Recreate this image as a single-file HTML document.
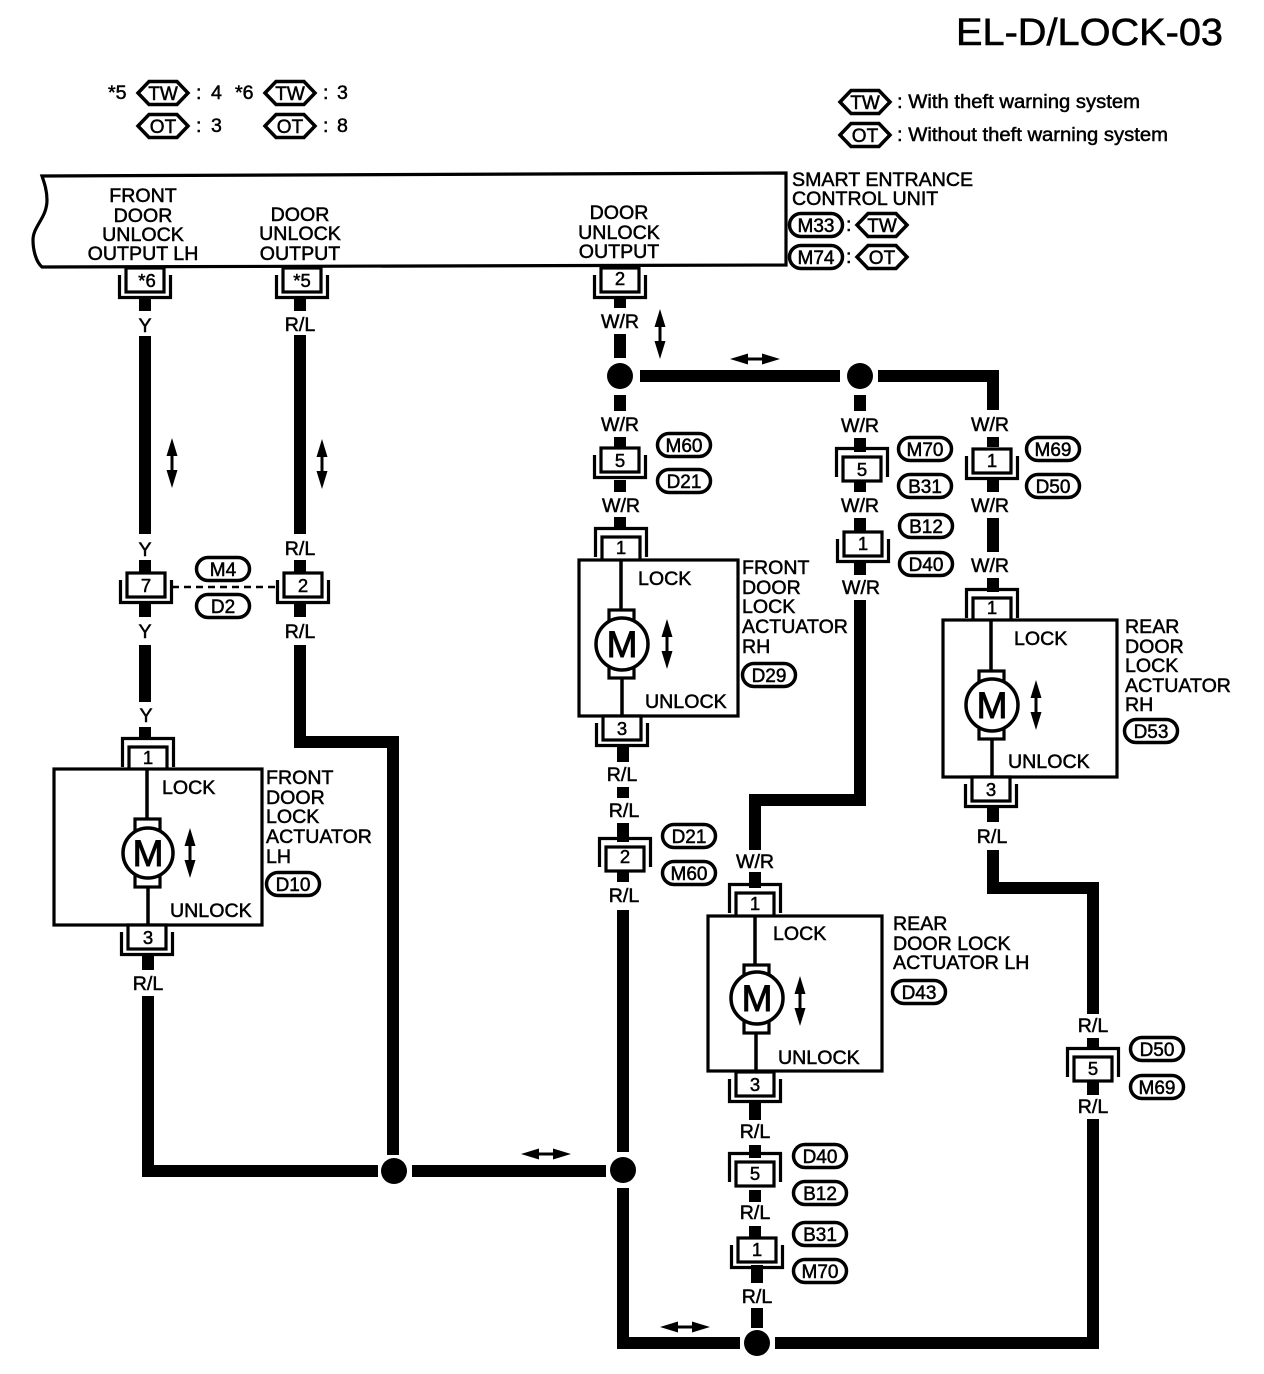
<!DOCTYPE html>
<html>
<head>
<meta charset="utf-8">
<title>EL-D/LOCK-03</title>
<style>
html,body{margin:0;padding:0;background:#fff}
svg{display:block}
text{font-family:"Liberation Sans",sans-serif;font-size:19.6px;fill:#000;stroke:#000;stroke-width:.5}
.m{text-anchor:middle}
.n{font-size:18.5px}
.p{font-size:19px;text-anchor:middle}
.big{font-size:38px;stroke-width:.6}
.M{font-size:37px;text-anchor:middle;stroke-width:1}
.w{fill:none;stroke:#000;stroke-width:12}
.t{fill:none;stroke:#000;stroke-width:3.500}
</style>
</head>
<body>
<svg width="1264" height="1374" viewBox="0 0 1264 1374" xmlns="http://www.w3.org/2000/svg">
<defs>
<g id="u"><rect x="-19" y="0" width="38" height="24" fill="#fff" stroke="#000" stroke-width="3.200"/><path d="M-25.500 7V29.500H25.500V7" fill="none" stroke="#000" stroke-width="3.200"/></g>
<g id="n"><rect x="-19" y="0" width="38" height="24" fill="#fff" stroke="#000" stroke-width="3.200"/><path d="M-25.500 20V-8.500H25.500V20" fill="none" stroke="#000" stroke-width="3.200"/></g>
<path id="pill" d="M-15-11.500H15A11.500 11.500 0 0 1 15 11.500H-15A11.500 11.500 0 0 1-15-11.500Z" fill="#fff" stroke="#000" stroke-width="3.500"/>
<path id="hex" d="M-25 0L-14-11.500H14L25 0L14 11.500H-14Z" fill="#fff" stroke="#000" stroke-width="3.500"/>
<g id="av"><path d="M0-25L-5.500-7H-1.500V7H-5.500L0 25L5.500 7H1.500V-7H5.500Z" fill="#000"/></g>
<g id="ah"><path d="M-25 0L-7-5.500V-1.500H7V-5.500L25 0L7 5.500V1.500H-7V5.500Z" fill="#000"/></g>
</defs>

<text x="956" y="45" class="big" textLength="267" lengthAdjust="spacingAndGlyphs">EL-D/LOCK-03</text>

<!-- top-left table -->
<text x="108" y="99">*5</text>
<use href="#hex" x="163" y="93"/><text x="163" y="100" class="p">TW</text>
<text x="196" y="99">:</text><text x="211" y="99">4</text>
<text x="235" y="99">*6</text>
<use href="#hex" x="290" y="93"/><text x="290" y="100" class="p">TW</text>
<text x="323" y="99">:</text><text x="337" y="99">3</text>
<use href="#hex" x="163" y="126"/><text x="163" y="133" class="p">OT</text>
<text x="196" y="132">:</text><text x="211" y="132">3</text>
<use href="#hex" x="290" y="126"/><text x="290" y="133" class="p">OT</text>
<text x="323" y="132">:</text><text x="337" y="132">8</text>

<!-- legend -->
<use href="#hex" x="865" y="102"/><text x="865" y="109" class="p">TW</text>
<text x="897" y="108" textLength="243" lengthAdjust="spacingAndGlyphs">: With theft warning system</text>
<use href="#hex" x="865" y="135"/><text x="865" y="142" class="p">OT</text>
<text x="897" y="141" textLength="271" lengthAdjust="spacingAndGlyphs">: Without theft warning system</text>

<!-- control unit -->
<path d="M42 176L786 173V265L42 267C36 262 33 250 33 240C33 226 47 218 47 200C47 190 44 182 42 176Z" fill="#fff" stroke="#000" stroke-width="3.200"/>
<text x="143" y="202" class="m">FRONT</text><text x="143" y="222" class="m">DOOR</text><text x="143" y="241" class="m">UNLOCK</text><text x="143" y="260" class="m">OUTPUT LH</text>
<text x="300" y="221" class="m">DOOR</text><text x="300" y="240" class="m">UNLOCK</text><text x="300" y="260" class="m">OUTPUT</text>
<text x="619" y="219" class="m">DOOR</text><text x="619" y="239" class="m">UNLOCK</text><text x="619" y="258" class="m">OUTPUT</text>
<text x="792" y="186">SMART ENTRANCE</text><text x="792" y="205">CONTROL UNIT</text>
<use href="#pill" x="816" y="225"/><text x="816" y="232" class="p">M33</text>
<text x="846" y="231">:</text>
<use href="#hex" x="882" y="225"/><text x="882" y="232" class="p">TW</text>
<use href="#pill" x="816" y="257"/><text x="816" y="264" class="p">M74</text>
<text x="846" y="263">:</text>
<use href="#hex" x="882" y="257"/><text x="882" y="264" class="p">OT</text>

<!-- wires -->
<g class="w">
<path class="w" d="M145 297V311M145 336V534M145 560V572M145 604V617M145 645V702M145 727V740M148 955V970"/>
<path class="w" d="M300 297V311M300 335V534M300 560V572M300 603V617"/>
<path class="w" d="M300 645V742H393V1155"/>
<path class="w" d="M148 996V1171H378"/>
<path class="w" d="M412 1171H606"/>
<path class="w" d="M620 297V308M620 334V358M620 395V411M620 437V447M620 480V492M620 517V530"/>
<path class="w" d="M640 376H840M878 376H993V410"/>
<path class="w" d="M860 395V411M860 438V452M860 482V492M860 518V532M860 563V575"/>
<path class="w" d="M860 600V800H755V850M755 872V888"/>
<path class="w" d="M993 437V447M993 480V492M993 518V552M993 578V592"/>
<path class="w" d="M993 806V822M993 850V888H1093V1014M1093 1038V1050M1093 1082V1095"/>
<path class="w" d="M1093 1119V1343H775"/>
<path class="w" d="M623 745V762M623 787V798M623 823V842M623 870V882M623 910V1152M623 1188V1343H740"/>
<path class="w" d="M755 1100V1120M755 1145V1158M755 1190V1202M755 1226V1240M757 1265V1283M757 1308V1328"/>
</g>

<!-- junctions -->
<circle cx="620" cy="376" r="13"/><circle cx="860" cy="376" r="13"/>
<circle cx="394" cy="1171" r="13"/><circle cx="623" cy="1170" r="13"/><circle cx="757" cy="1343" r="13"/>

<!-- top connectors -->
<use href="#u" x="145" y="268"/><text x="147" y="287" class="m n">*6</text>
<use href="#u" x="302" y="268"/><text x="302" y="287" class="m n">*5</text>
<use href="#u" x="620" y="268"/><text x="620" y="285" class="m n">2</text>

<!-- left column -->
<use href="#u" x="146" y="573"/><text x="146" y="592" class="m n">7</text>
<use href="#u" x="303" y="573"/><text x="303" y="592" class="m n">2</text>
<line x1="172" y1="587" x2="277" y2="587" stroke="#000" stroke-width="2.500" stroke-dasharray="7 5"/>
<use href="#pill" x="223" y="569"/><text x="223" y="576" class="p">M4</text>
<use href="#pill" x="223" y="606"/><text x="223" y="613" class="p">D2</text>

<!-- wire labels -->
<g class="m">
<text x="145" y="332" class="m">Y</text><text x="300" y="331" class="m">R/L</text>
<text x="145" y="556" class="m">Y</text><text x="300" y="555" class="m">R/L</text>
<text x="145" y="638" class="m">Y</text><text x="300" y="638" class="m">R/L</text>
<text x="146" y="722" class="m">Y</text><text x="148" y="990" class="m">R/L</text>
<text x="620" y="328" class="m">W/R</text><text x="620" y="431" class="m">W/R</text><text x="621" y="512" class="m">W/R</text>
<text x="860" y="432" class="m">W/R</text><text x="860" y="512" class="m">W/R</text><text x="861" y="594" class="m">W/R</text>
<text x="990" y="431" class="m">W/R</text><text x="990" y="512" class="m">W/R</text><text x="990" y="572" class="m">W/R</text>
<text x="755" y="868" class="m">W/R</text>
<text x="622" y="781" class="m">R/L</text><text x="624" y="817" class="m">R/L</text><text x="624" y="902" class="m">R/L</text>
<text x="992" y="843" class="m">R/L</text><text x="1093" y="1032" class="m">R/L</text><text x="1093" y="1113" class="m">R/L</text>
<text x="755" y="1138" class="m">R/L</text><text x="755" y="1219" class="m">R/L</text><text x="757" y="1303" class="m">R/L</text>
</g>

<!-- front door LH -->
<use href="#n" x="148" y="747"/>
<rect x="54" y="769" width="208" height="156" fill="#fff" stroke="#000" stroke-width="3.200"/>
<text x="148" y="764" class="m n">1</text>
<path d="M147 769V820M148 882V925" class="t"/>
<rect x="135" y="819" width="25" height="68" fill="#fff" stroke="#000" stroke-width="3.200"/>
<circle cx="148" cy="853" r="25" fill="#fff" stroke="#000" stroke-width="3.500"/>
<text x="148" y="866" class="M">M</text>
<use href="#av" x="190" y="853"/>
<text x="162" y="794">LOCK</text><text x="170" y="917">UNLOCK</text>
<use href="#u" x="147" y="925"/><text x="148" y="944" class="m n">3</text>
<text x="266" y="784">FRONT</text><text x="266" y="804">DOOR</text><text x="266" y="823">LOCK</text><text x="266" y="843">ACTUATOR</text><text x="266" y="863">LH</text>
<use href="#pill" x="293" y="884"/><text x="293" y="891" class="p">D10</text>

<!-- middle connectors -->
<use href="#u" x="620" y="448"/><text x="620" y="467" class="m n">5</text>
<use href="#pill" x="684" y="445"/><text x="684" y="452" class="p">M60</text>
<use href="#pill" x="684" y="481"/><text x="684" y="488" class="p">D21</text>

<!-- front door RH -->
<use href="#n" x="621" y="537"/>
<rect x="579" y="560" width="159" height="156" fill="#fff" stroke="#000" stroke-width="3.200"/>
<text x="621" y="554" class="m n">1</text>
<path d="M621 560V612M622 670V716" class="t"/>
<rect x="609" y="610" width="25" height="68" fill="#fff" stroke="#000" stroke-width="3.200"/>
<circle cx="622" cy="644" r="26" fill="#fff" stroke="#000" stroke-width="3.500"/>
<text x="622" y="657" class="M">M</text>
<use href="#av" x="667" y="644"/>
<text x="638" y="585">LOCK</text><text x="645" y="708">UNLOCK</text>
<use href="#u" x="622" y="716"/><text x="622" y="735" class="m n">3</text>
<text x="742" y="574">FRONT</text><text x="742" y="594">DOOR</text><text x="742" y="613">LOCK</text><text x="742" y="633">ACTUATOR</text><text x="742" y="653">RH</text>
<use href="#pill" x="769" y="675"/><text x="769" y="682" class="p">D29</text>

<use href="#n" x="625" y="847"/><text x="625" y="863" class="m n">2</text>
<use href="#pill" x="689" y="836"/><text x="689" y="843" class="p">D21</text>
<use href="#pill" x="689" y="873"/><text x="689" y="880" class="p">M60</text>

<!-- M70 branch -->
<use href="#n" x="862" y="457"/><text x="862" y="476" class="m n">5</text>
<use href="#pill" x="925" y="449"/><text x="925" y="456" class="p">M70</text>
<use href="#pill" x="925" y="486"/><text x="925" y="493" class="p">B31</text>
<use href="#u" x="863" y="532"/><text x="863" y="550" class="m n">1</text>
<use href="#pill" x="926" y="526"/><text x="926" y="533" class="p">B12</text>
<use href="#pill" x="926" y="564"/><text x="926" y="571" class="p">D40</text>

<!-- M69 branch -->
<use href="#u" x="992" y="449"/><text x="992" y="467" class="m n">1</text>
<use href="#pill" x="1053" y="449"/><text x="1053" y="456" class="p">M69</text>
<use href="#pill" x="1053" y="486"/><text x="1053" y="493" class="p">D50</text>

<!-- rear door RH -->
<use href="#n" x="992" y="598"/>
<rect x="943" y="620" width="174" height="157" fill="#fff" stroke="#000" stroke-width="3.200"/>
<text x="992" y="614" class="m n">1</text>
<path d="M991 620V672M992 730V777" class="t"/>
<rect x="979" y="671" width="25" height="68" fill="#fff" stroke="#000" stroke-width="3.200"/>
<circle cx="992" cy="705" r="26" fill="#fff" stroke="#000" stroke-width="3.500"/>
<text x="992" y="718" class="M">M</text>
<use href="#av" x="1036" y="705"/>
<text x="1014" y="645">LOCK</text><text x="1008" y="768">UNLOCK</text>
<use href="#u" x="991" y="777"/><text x="991" y="796" class="m n">3</text>
<text x="1125" y="633">REAR</text><text x="1125" y="653">DOOR</text><text x="1125" y="672">LOCK</text><text x="1125" y="692">ACTUATOR</text><text x="1125" y="711">RH</text>
<use href="#pill" x="1151" y="731"/><text x="1151" y="738" class="p">D53</text>

<use href="#n" x="1093" y="1057"/><text x="1093" y="1075" class="m n">5</text>
<use href="#pill" x="1157" y="1049"/><text x="1157" y="1056" class="p">D50</text>
<use href="#pill" x="1157" y="1087"/><text x="1157" y="1094" class="p">M69</text>

<!-- rear door LH -->
<use href="#n" x="755" y="893"/>
<rect x="708" y="916" width="174" height="155" fill="#fff" stroke="#000" stroke-width="3.200"/>
<text x="755" y="910" class="m n">1</text>
<path d="M755 916V968M756 1026V1071" class="t"/>
<rect x="744" y="965" width="25" height="68" fill="#fff" stroke="#000" stroke-width="3.200"/>
<circle cx="757" cy="998" r="26" fill="#fff" stroke="#000" stroke-width="3.500"/>
<text x="757" y="1011" class="M">M</text>
<use href="#av" x="800" y="1001"/>
<text x="773" y="940">LOCK</text><text x="778" y="1064">UNLOCK</text>
<use href="#u" x="755" y="1072"/><text x="755" y="1091" class="m n">3</text>
<text x="893" y="930">REAR</text><text x="893" y="950">DOOR LOCK</text><text x="893" y="969">ACTUATOR LH</text>
<use href="#pill" x="919" y="992"/><text x="919" y="999" class="p">D43</text>

<use href="#n" x="755" y="1162"/><text x="755" y="1180" class="m n">5</text>
<use href="#pill" x="820" y="1156"/><text x="820" y="1163" class="p">D40</text>
<use href="#pill" x="820" y="1193"/><text x="820" y="1200" class="p">B12</text>
<use href="#u" x="757" y="1238"/><text x="757" y="1256" class="m n">1</text>
<use href="#pill" x="820" y="1234"/><text x="820" y="1241" class="p">B31</text>
<use href="#pill" x="820" y="1271"/><text x="820" y="1278" class="p">M70</text>

<!-- arrows -->
<use href="#av" x="172" y="463"/><use href="#av" x="322" y="464"/><use href="#av" x="660" y="334"/>
<use href="#ah" x="755" y="359"/><use href="#ah" x="546" y="1154"/><use href="#ah" x="685" y="1327"/>
</svg>
</body>
</html>
